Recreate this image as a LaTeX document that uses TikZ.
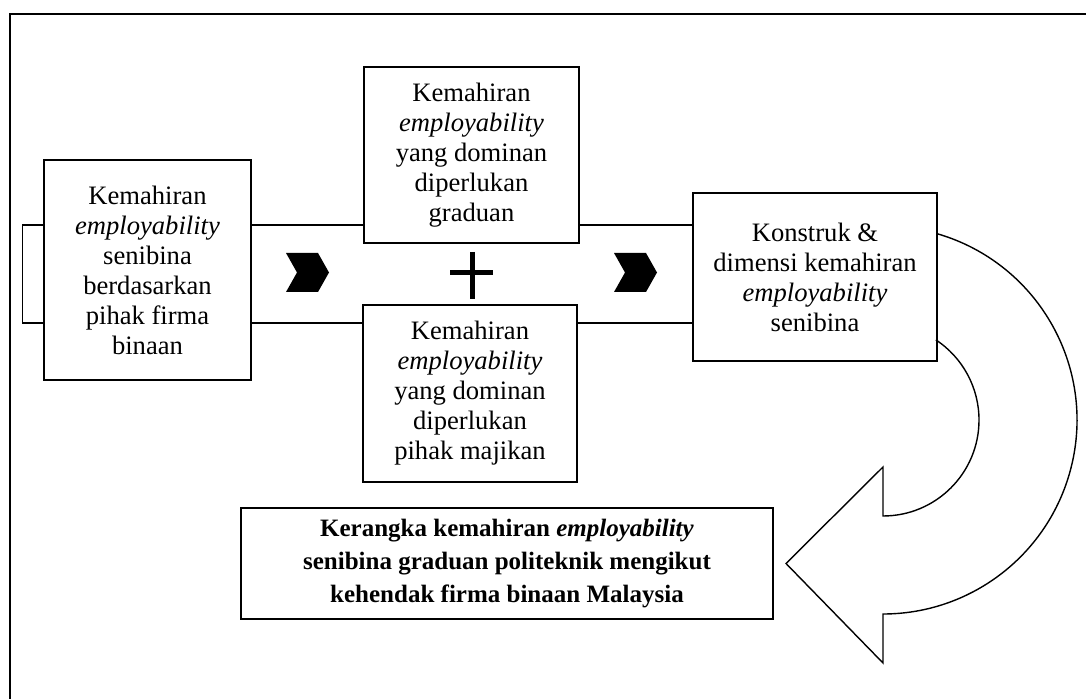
\documentclass[tikz,border=0pt]{standalone}
\usepackage{fontspec}
\setmainfont{Liberation Serif}
\usetikzlibrary{calc}

\begin{document}
\begin{tikzpicture}[x=0.5pt, y=-0.5pt,
    box/.style={draw, line width=0.7pt, fill=white, align=center, inner sep=2pt,
        font=\fontsize{13.3}{15}\selectfont},
    link/.style={line width=0.7pt}]
    \useasboundingbox (0,0) rectangle (1086,699);

    % outer frame, cut at the right and bottom
    \draw[line width=1pt] (10,699) -- (10,14) -- (1086,14);

    \coordinate (top) at (0,225);
    \coordinate (bot) at (0,323);
    \coordinate (turn) at (883,420);

    \node[box, minimum width=103.5pt, minimum height=110pt] (firma) at (147.5,270)
        {Kemahiran\\ \textit{employability}\\ senibina\\ berdasarkan\\ pihak firma\\ binaan};
    \node[box, minimum width=107.5pt, minimum height=88pt] (graduan) at (471.5,155)
        {Kemahiran\\ \textit{employability}\\ yang dominan\\ diperlukan\\ graduan};
    \node[box, minimum width=107pt, minimum height=88.5pt] (majikan) at (470,393.5)
        {Kemahiran\\ \textit{employability}\\ yang dominan\\ diperlukan\\ pihak majikan};
    \node[box, minimum width=122pt, minimum height=84pt] (konstruk) at (815,277)
        {Konstruk \&\\ dimensi kemahiran\\ \textit{employability}\\ senibina};
    \node[box, minimum width=266pt, minimum height=55.5pt,
        font=\fontsize{12.5}{16.5}\selectfont\bfseries] (kerangka) at (507,563.5)
        {Kerangka kemahiran \textit{employability}\\ senibina graduan politeknik mengikut\\ kehendak firma binaan Malaysia};

    % joining lines
    \draw[link] (firma.east |- top) -- (graduan.west |- top);
    \draw[link] (graduan.east |- top) -- (konstruk.west |- top);
    \draw[link] (firma.east |- bot) -- (majikan.west |- bot);
    \draw[link] (majikan.east |- bot) -- (konstruk.west |- bot);
    \draw[link] (firma.west |- top) -- ++(-21,0) |- (firma.west |- bot);

    % chevrons
    \foreach \cx in {286,614}
        \fill (\cx,253) -- ++(32,0) -- ++(11,19.5) -- ++(-11,19.5) -- ++(-32,0) -- ++(11,-19.5) -- cycle;

    % plus
    \draw[line width=2.5pt] (472,252) -- (472,299) (450,273) -- (493,273);

    % curved arrow
    \draw[link] (turn) ++(-73.9:194) arc[start angle=-73.9, end angle=90, radius=194]
        -- ++(0,49) -- (kerangka.east -| 786,0) -- (883,467) -- (883,516)
        arc[start angle=90, end angle=-56.6, radius=96];
\end{tikzpicture}
\end{document}
